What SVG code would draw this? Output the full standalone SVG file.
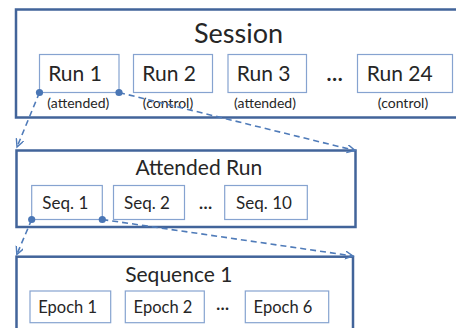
<svg xmlns="http://www.w3.org/2000/svg" width="456" height="328" viewBox="0 0 456 328">
<defs>
<style>
text{font-family:Lato,"Open Sans","Liberation Sans",sans-serif;fill:#262626;text-anchor:middle}
.outer{fill:#fff;stroke:#42649a;stroke-width:2.5}
.inner{fill:#fff;stroke:#86a3d0;stroke-width:1.2}
.conn{fill:none;stroke:#4f7bb9;stroke-width:1.6;stroke-dasharray:6 4}
.dot{fill:#4a76b5}
.t1{font-size:27px}.t2{font-size:21px}.t3{font-size:14px}.t4{font-size:17px}.t5{font-size:16.5px}
.el{font-weight:bold}
</style>
<marker id="ah" markerWidth="10" markerHeight="10" refX="8" refY="4" orient="auto" markerUnits="userSpaceOnUse">
<path d="M0,0 L8,4 L0,8" fill="none" stroke="#4f7bb9" stroke-width="1.4"/>
</marker>
</defs>
<rect width="456" height="328" fill="#fff"/>
<g id="session">
<rect class="outer" x="16" y="9.5" width="450" height="108"/>
<text class="t1" x="238.5" y="42.5">Session</text>
</g>
<g id="run1"><rect class="inner" x="39.5" y="54.5" width="79.5" height="38"/><text class="t2" x="75" y="81">Run 1</text><text class="t3" x="78.3" y="108">(attended)</text></g>
<g id="run2"><rect class="inner" x="133.5" y="54.5" width="79" height="38"/><text class="t2" x="169.2" y="81">Run 2</text><text class="t3" x="168" y="108">(control)</text></g>
<g id="run3"><rect class="inner" x="228" y="54.5" width="78.5" height="38"/><text class="t2" x="263.7" y="81">Run 3</text><text class="t3" x="265" y="108">(attended)</text></g>
<g id="run-ellipsis"><text class="t2 el" x="334.7" y="81" font-size="24">…</text></g>
<g id="run24"><rect class="inner" x="357.5" y="54.5" width="95" height="38"/><text class="t2" x="399.7" y="81">Run 24</text><text class="t3" x="403" y="108">(control)</text></g>
<g id="attended-run">
<rect class="outer" x="16.5" y="150.5" width="339" height="76.5"/>
<text class="t2" x="198.8" y="175">Attended Run</text>
</g>
<g id="seq1"><rect class="inner" x="31.7" y="185.5" width="70.6" height="34"/><text class="t4" x="65.3" y="209">Seq. 1</text></g>
<g id="seq2"><rect class="inner" x="113.5" y="185.5" width="71" height="34"/><text class="t4" x="147" y="208.5">Seq. 2</text></g>
<g id="seq-ellipsis"><text class="t4 el" x="205.5" y="208.5" font-size="19">…</text></g>
<g id="seq10"><rect class="inner" x="224.7" y="185.5" width="82.6" height="34"/><text class="t4" x="264" y="208.5">Seq. 10</text></g>
<g id="sequence1">
<rect class="outer" x="16.5" y="256.7" width="336.5" height="90"/>
<text class="t2" x="178.8" y="281.7">Sequence 1</text>
</g>
<g id="epoch1"><rect class="inner" x="30" y="291" width="80.7" height="31.7"/><text class="t5" x="67.7" y="313.3">Epoch 1</text></g>
<g id="epoch2"><rect class="inner" x="125.3" y="291" width="79" height="31.7"/><text class="t5" x="163" y="313.3">Epoch 2</text></g>
<g id="epoch-ellipsis"><text class="t5 el" x="222.5" y="310" font-size="18">…</text></g>
<g id="epoch6"><rect class="inner" x="245.3" y="291" width="83.4" height="31.7"/><text class="t5" x="283" y="313.3">Epoch 6</text></g>
<g id="connectors">
<path class="conn" d="M39.5,92.5 L17,147" marker-end="url(#ah)"/>
<path class="conn" d="M119,92.5 L355,150.5" marker-end="url(#ah)"/>
<path class="conn" d="M31.7,219.5 L16.8,254.5" marker-end="url(#ah)"/>
<path class="conn" d="M102.3,219.5 L353,256" marker-end="url(#ah)"/>
<circle class="dot" cx="39.5" cy="92.5" r="3.6"/>
<circle class="dot" cx="119" cy="92.5" r="3.6"/>
<circle class="dot" cx="31.7" cy="219.5" r="3.6"/>
<circle class="dot" cx="102.3" cy="219.5" r="3.6"/>
</g>
</svg>
